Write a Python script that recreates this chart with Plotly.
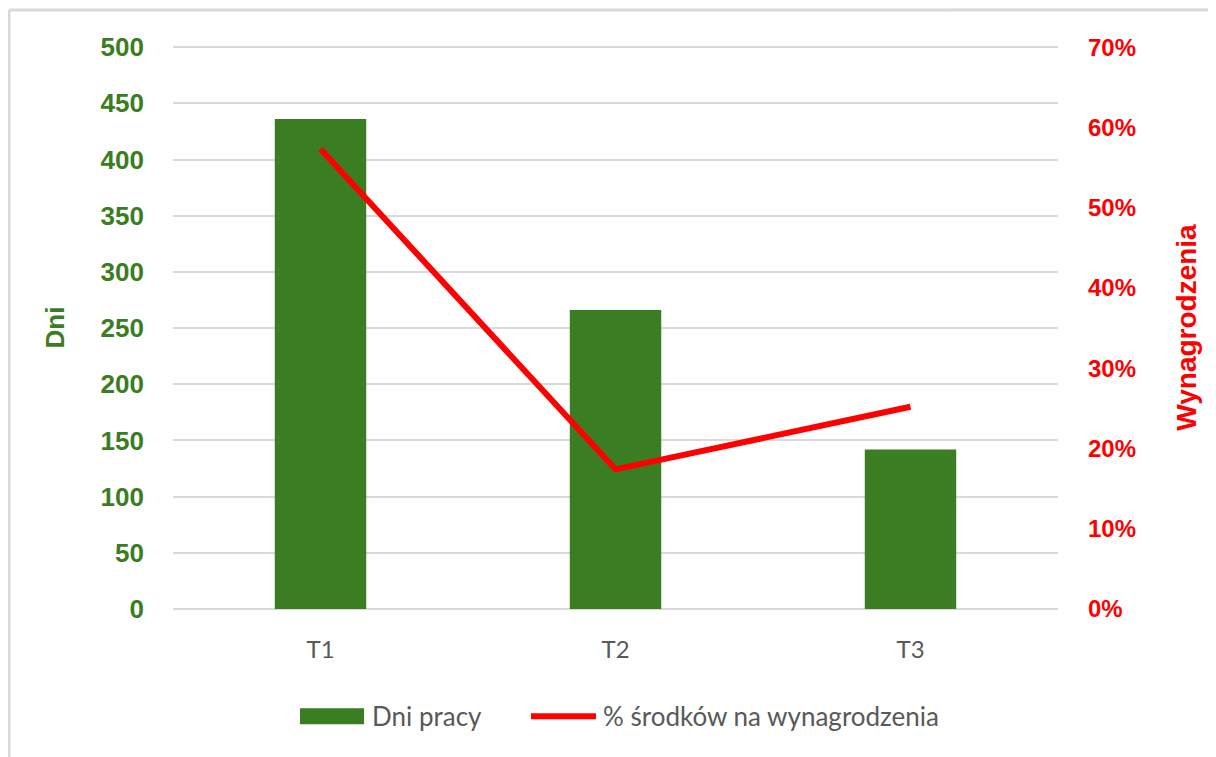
import plotly.graph_objects as go

categories = ["T1", "T2", "T3"]
dni_pracy = [436, 266, 142]
pct_wynagrodzenia = [0.573, 0.174, 0.252]
left_ticks = [0, 50, 100, 150, 200, 250, 300, 350, 400, 450, 500]
right_ticks = [0, 0.1, 0.2, 0.3, 0.4, 0.5, 0.6, 0.7]
legend_labels = ["Dni pracy", "% środków na wynagrodzenia"]

GREEN = "#3B7D23"
RED = "#FF0000"
GRID = "#D9D9D9"
TEXT_GRAY = "#595959"

# page offset: body has 8px margin; plot area in page px: x 173..1058, y 47..609
PX0, PX1, PY0, PY1 = 173, 1058, 47, 609
TOP_PAD = 1.002  # tiny headroom so the top gridline is drawn


def px(x):
    return (x - PX0) / (PX1 - PX0)


def py(y):
    return (PY1 - y) / (PY1 - PY0)


fig = go.Figure()
fig.add_trace(go.Bar(
    x=categories, y=dni_pracy, name=legend_labels[0],
    marker=dict(color=GREEN, line=dict(width=0)), width=0.31,
    yaxis="y",
))
fig.add_trace(go.Scatter(
    x=categories, y=pct_wynagrodzenia, name=legend_labels[1],
    mode="lines", line=dict(color=RED, width=6),
    yaxis="y2",
))

fig.update_layout(
    width=1208, height=749,
    margin=dict(l=165, r=158, t=38, b=148),
    paper_bgcolor="white", plot_bgcolor="white",
    showlegend=False,
    xaxis=dict(
        type="category", range=[-0.5, 2.5], showgrid=False, zeroline=False,
        showline=False, ticks="",
        tickfont=dict(family="Lato", size=24, color=TEXT_GRAY),
        ticklabelstandoff=24,
    ),
    yaxis=dict(
        range=[0, 500 * TOP_PAD], tickvals=left_ticks, showgrid=True, gridcolor=GRID,
        gridwidth=2, zeroline=True, zerolinecolor=GRID, zerolinewidth=2, showline=False,
        tickfont=dict(family="Liberation Sans", size=26, color=GREEN, weight="bold"),
        ticklabelstandoff=28,
        title=dict(text="Dni", font=dict(family="Liberation Sans", size=26, color=GREEN, weight="bold"),
                   standoff=28),
    ),
    yaxis2=dict(
        range=[0, 0.7 * TOP_PAD], tickvals=right_ticks, tickformat=".0%", overlaying="y",
        side="right", showgrid=False, zeroline=False, showline=False,
        tickfont=dict(family="Liberation Sans", size=24, color=RED, weight="bold"),
        ticklabelstandoff=29,
        title=dict(text="Wynagrodzenia", font=dict(family="Liberation Sans", size=28, color=RED, weight="bold"),
                   standoff=41),
    ),
)

# custom legend (Excel style swatches)
fig.add_shape(type="rect", xref="paper", yref="paper",
              x0=px(300), x1=px(364), y0=py(724), y1=py(708),
              fillcolor=GREEN, line=dict(width=0))
fig.add_annotation(xref="paper", yref="paper", x=px(370), y=py(716),
                   text=legend_labels[0], showarrow=False, xanchor="left", yanchor="middle",
                   font=dict(family="Lato", size=26, color=TEXT_GRAY))
fig.add_shape(type="line", xref="paper", yref="paper",
              x0=px(531), x1=px(596), y0=py(716), y1=py(716),
              line=dict(color=RED, width=6))
fig.add_annotation(xref="paper", yref="paper", x=px(601), y=py(716),
                   text=legend_labels[1], showarrow=False, xanchor="left", yanchor="middle",
                   font=dict(family="Lato", size=26, color=TEXT_GRAY))

# chart frame
fig.add_shape(type="rect", xref="paper", yref="paper",
              x0=px(950), x1=px(1216), y0=py(10), y1=py(0),
              fillcolor="#F7F7F7", line=dict(width=0), layer="below")
fig.add_shape(type="line", xref="paper", yref="paper",
              x0=px(9), x1=px(1216), y0=py(11), y1=py(11),
              line=dict(color=GRID, width=3))
fig.add_shape(type="line", xref="paper", yref="paper",
              x0=px(9), x1=px(9), y0=py(11), y1=py(757),
              line=dict(color=GRID, width=3))

fig.write_html("out.html")
